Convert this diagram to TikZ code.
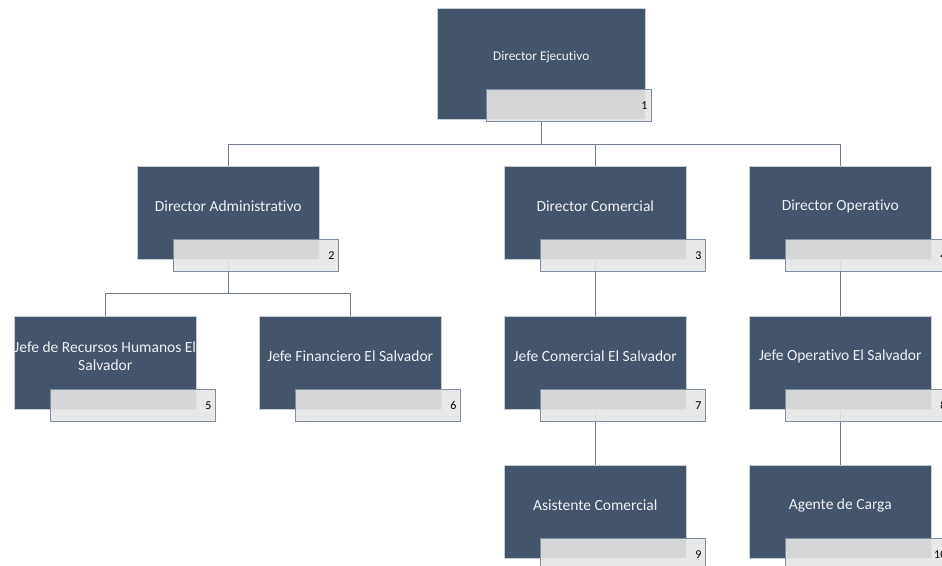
\documentclass[tikz,border=0pt]{standalone}
\usepackage{fontspec}
\setmainfont{Carlito}[Ligatures=NoCommon]
\usetikzlibrary{positioning}

\definecolor{azulcargo}{RGB}{68,84,106}
\definecolor{grisnum}{RGB}{229,229,229}
\definecolor{bordenum}{RGB}{128,142,162}
\definecolor{gristraza}{RGB}{112,124,140}

\begin{document}
\begin{tikzpicture}[x=1pt,y=-1pt,
	cargo/.style={rectangle,fill=azulcargo,draw=white!70!azulcargo,line width=.5pt,inner sep=0pt,anchor=north west,minimum width=182pt,minimum height=93pt},
	nombre/.style={text=white!92!azulcargo,align=center,inner sep=0pt,font=\fontsize{15.5}{18}\selectfont},
	numero/.style={rectangle,fill=grisnum,fill opacity=.9,text opacity=1,draw=bordenum,line width=.8pt,anchor=north west,minimum width=165pt,minimum height=32pt,text width=157pt,inner xsep=4pt,align=right,font=\fontsize{12}{14}\selectfont},
	traza/.style={draw=gristraza,line width=1.2pt}]
			\useasboundingbox (0,0) rectangle (942,565);
			\clip (0,0) rectangle (942,565);
			
			% cajas
			\node[cargo,minimum width=208pt,minimum height=111pt] (cEje) at (437,8) {};
			\node[nombre,font=\fontsize{13.3}{16}\selectfont] (tEje) at ([yshift=6.5pt]cEje.center) {Director Ejecutivo};
			
			\node[cargo] (cAdm) at (137,166) {};
			\node[nombre] (tAdm) at ([yshift=6.5pt]cAdm.center) {Director Administrativo};
			\node[cargo] (cCom) at (504,166) {};
			\node[nombre] (tCom) at ([yshift=6.5pt]cCom.center) {Director Comercial};
			\node[cargo] (cOpe) at (749,166) {};
			\node[nombre] (tOpe) at ([yshift=6.5pt]cOpe.center) {Director Operativo};
			
			\node[cargo] (jRh) at (14,316) {};
			\node[nombre] (tRh) at ([yshift=6.5pt]jRh.center) {Jefe de Recursos Humanos El\\Salvador};
			\node[cargo] (jFin) at (259,316) {};
			\node[nombre] (tFin) at ([yshift=6.5pt]jFin.center) {Jefe Financiero El Salvador};
			\node[cargo] (jCom) at (504,316) {};
			\node[nombre] (tJCom) at ([yshift=6.5pt]jCom.center) {Jefe Comercial El Salvador};
			\node[cargo] (jOpe) at (749,316) {};
			\node[nombre] (tJOpe) at ([yshift=6.5pt]jOpe.center) {Jefe Operativo El Salvador};
			
			\node[cargo] (aCom) at (504,465) {};
			\node[nombre] (tACom) at ([yshift=6.5pt]aCom.center) {Asistente Comercial};
			\node[cargo] (aCar) at (749,465) {};
			\node[nombre] (tACar) at ([yshift=6.5pt]aCar.center) {Agente de Carga};
			
			% lineas
			\coordinate (bus1) at ([yshift=-25pt]cEje.south);
			\coordinate (bus2) at ([yshift=-34pt]cAdm.south);
			\draw[traza] (cEje.south) -- (bus1) -| (cAdm.north);
			\draw[traza] (bus1) -| (cCom.north);
			\draw[traza] (bus1) -| (cOpe.north);
			\draw[traza] (cAdm.south) -- (bus2) -| (jRh.north);
			\draw[traza] (bus2) -| (jFin.north);
			\draw[traza] (cCom.south) -- (jCom.north);
			\draw[traza] (cOpe.south) -- (jOpe.north);
			\draw[traza] (jCom.south) -- (aCom.north);
			\draw[traza] (jOpe.south) -- (aCar.north);
			
			% numeros
			\node[numero] (nEje) at ([shift={(49,81)}]cEje.north west) {1};
			\node[numero] (nAdm) at ([shift={(36,73)}]cAdm.north west) {2};
			\node[numero] (nCom) at ([shift={(36,73)}]cCom.north west) {3};
			\node[numero] (nOpe) at ([shift={(36,73)}]cOpe.north west) {4};
			\node[numero] (nRh) at ([shift={(36,73)}]jRh.north west) {5};
			\node[numero] (nFin) at ([shift={(36,73)}]jFin.north west) {6};
			\node[numero] (nJCom) at ([shift={(36,73)}]jCom.north west) {7};
			\node[numero] (nJOpe) at ([shift={(36,73)}]jOpe.north west) {8};
			\node[numero] (nACom) at ([shift={(36,73)}]aCom.north west) {9};
			\node[numero] (nACar) at ([shift={(36,73)}]aCar.north west) {10};
\end{tikzpicture}
\end{document}
